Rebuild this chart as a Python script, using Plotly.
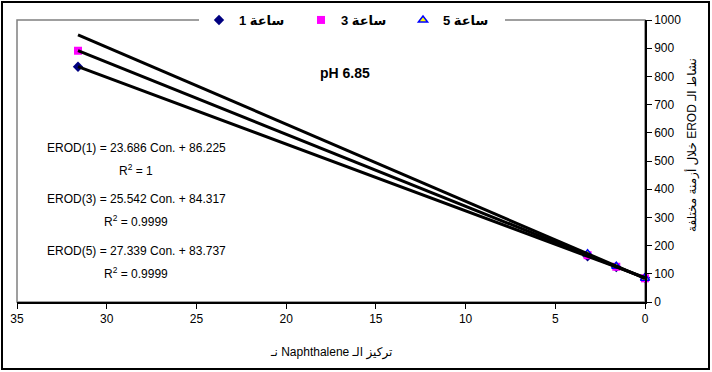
import plotly.graph_objects as go

# ---- data ----
concentration = [0.0, 1.6, 3.2, 31.6]
erod_1h = [86, 124, 162, 834]
erod_3h = [84, 125, 166, 891]
erod_5h = [84, 127, 171, None]

series_names = ["ساعة 1", "ساعة 3", "ساعة 5"]
fit_slopes = [23.686, 25.542, 27.339]
fit_intercepts = [86.225, 84.317, 83.737]
fit_r2 = ["1", "0.9999", "0.9999"]
eq_labels = ["EROD(1)", "EROD(3)", "EROD(5)"]

x_ticks = [35, 30, 25, 20, 15, 10, 5, 0]
y_ticks = [0, 100, 200, 300, 400, 500, 600, 700, 800, 900, 1000]

# ---- layout geometry ----
W, H = 712, 372
L, R, T, B = 17, 67, 20, 70
pw, ph = W - L - R, H - T - B

def px2paper_x(px):
    return (px - L) / pw

def px2paper_y(py):
    return (H - B - py) / ph

FONT = "Liberation Sans, Arial, DejaVu Sans, sans-serif"
RLE, PDF = "\u202B", "\u202C"

fig = go.Figure()

marker_styles = [
    dict(symbol="diamond", size=8, color="#000080", line=dict(width=0)),
    dict(symbol="square", size=8, color="#FF00FF", line=dict(width=0)),
    dict(symbol="triangle-up", size=8, color="#FFFF00", line=dict(width=1.5, color="#0000FF")),
]
for name, vals, ms in zip(series_names, [erod_1h, erod_3h, erod_5h], marker_styles):
    fig.add_trace(go.Scatter(x=concentration, y=vals, mode="markers",
                             name=f"<b>{RLE}{name}{PDF}</b>",
                             marker=ms, cliponaxis=False))

# trendlines from the displayed fit equations, over the data range
x_min, x_max = min(concentration), max(concentration)
for a, b in zip(fit_slopes, fit_intercepts):
    fig.add_trace(go.Scatter(x=[x_min, x_max], y=[a * x_min + b, a * x_max + b],
                             mode="lines", line=dict(color="black", width=3),
                             showlegend=False, hoverinfo="skip"))

# equation annotations
eq_y_px = [148, 170, 199, 221, 251, 273]
for i in range(3):
    fig.add_annotation(xref="paper", yref="paper", x=px2paper_x(136), y=px2paper_y(eq_y_px[2 * i]),
                       xanchor="center", yanchor="middle",
                       text=f"{eq_labels[i]} = {fit_slopes[i]:.3f} Con. + {fit_intercepts[i]:.3f}",
                       showarrow=False, font=dict(family=FONT, size=12, color="black"))
    fig.add_annotation(xref="paper", yref="paper", x=px2paper_x(136), y=px2paper_y(eq_y_px[2 * i + 1]),
                       xanchor="center", yanchor="middle",
                       text=f"R<sup>2</sup> = {fit_r2[i]}",
                       showarrow=False, font=dict(family=FONT, size=12, color="black"))

fig.add_annotation(xref="paper", yref="paper", x=px2paper_x(345), y=px2paper_y(73),
                   xanchor="center", yanchor="middle",
                   text="<b>pH 6.85</b>", showarrow=False,
                   font=dict(family=FONT, size=14, color="black"))

# axis titles (Arabic, RTL embedding)
fig.add_annotation(xref="paper", yref="paper", x=px2paper_x(331), y=px2paper_y(352),
                   xanchor="center", yanchor="middle",
                   text=f"{RLE}تركيز الـ Naphthalene نـ{PDF}", showarrow=False,
                   font=dict(family=FONT, size=12, color="black"))
fig.add_annotation(xref="paper", yref="paper", x=px2paper_x(692), y=px2paper_y(145),
                   xanchor="center", yanchor="middle",
                   text=f"{RLE}نشاط الـ EROD خلال أزمنة مختلفة{PDF}", showarrow=False, textangle=-90,
                   font=dict(family=FONT, size=12, color="black"))

# plot area border (grey) and outer chart border (black)
fig.add_shape(type="rect", xref="paper", yref="paper", x0=0, x1=1, y0=0, y1=1,
              line=dict(color="#808080", width=1.5), layer="below")
fig.add_shape(type="rect", xref="paper", yref="paper",
              x0=px2paper_x(2), x1=px2paper_x(709), y0=px2paper_y(369), y1=px2paper_y(2),
              line=dict(color="black", width=2))

fig.update_layout(
    width=W, height=H,
    margin=dict(l=L, r=R, t=T, b=B, autoexpand=False),
    paper_bgcolor="white", plot_bgcolor="white",
    font=dict(family=FONT, size=12, color="black"),
    showlegend=True,
    legend=dict(orientation="h", x=px2paper_x(352), y=1.0, xanchor="center", yanchor="middle",
                bgcolor="white", borderwidth=0, font=dict(family=FONT, size=13, color="black"),
                itemwidth=30, tracegroupgap=0, entrywidth=57, entrywidthmode="pixels"),
    xaxis=dict(range=[35, 0], tickvals=x_ticks, ticktext=[str(v) for v in x_ticks], automargin=False,
               showgrid=False, zeroline=False, showline=True, linecolor="black", linewidth=1.5,
               ticks="outside", ticklen=5, tickcolor="black", tickwidth=1,
               tickfont=dict(family=FONT, size=12, color="black")),
    yaxis=dict(range=[0, 1000], tickvals=y_ticks, ticktext=[str(v) for v in y_ticks], side="right",
               automargin=False,
               showgrid=False, zeroline=False, showline=True, linecolor="black", linewidth=1.5,
               ticks="outside", ticklen=5, tickcolor="black", tickwidth=1,
               tickfont=dict(family=FONT, size=12, color="black")),
)

fig.write_html("out.html", config={"displayModeBar": False},
               post_script="document.body.style.margin='0px';document.body.style.overflow='hidden';")
